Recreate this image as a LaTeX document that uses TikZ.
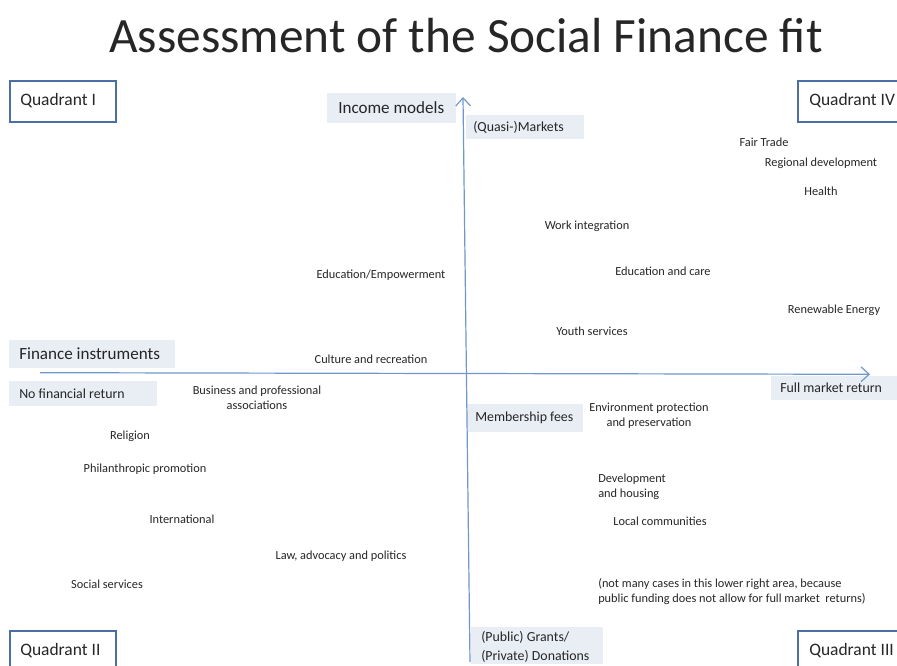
\documentclass[tikz,border=0pt]{standalone}
\usepackage{fontspec}
\setmainfont{Carlito}
\usetikzlibrary{arrows.meta}
\definecolor{axisblue}{HTML}{6F97CC}
\definecolor{qborder}{HTML}{4A6FA5}
\definecolor{lblfill}{HTML}{E9EDF4}
\definecolor{txt}{HTML}{262626}
\begin{document}
\begin{tikzpicture}[x=0.75pt,y=-0.75pt,
  every node/.style={text=txt,inner sep=0pt},
  quad/.style={draw=qborder,line width=1.5pt,fill=white,anchor=north west},
  qtext/.style={anchor=west,font=\fontsize{13.1}{15}\selectfont},
  axlbl/.style={fill=lblfill,anchor=north west},
  axtext/.style={anchor=west,font=\fontsize{12.8}{15}\selectfont},
  vallbl/.style={fill=lblfill,anchor=north west},
  valtext/.style={anchor=west,font=\fontsize{10.4}{13}\selectfont},
  item/.style={font=\fontsize{9.25}{11.25}\selectfont,align=center},
  axis/.style={draw=axisblue,line width=0.9pt}]
\useasboundingbox (0,0) rectangle (897,666);
% title
\node[font=\fontsize{37}{42}\selectfont] (title) at (466,36) {Assessment of the Social Finance fit};
% quadrant boxes
\node[quad,minimum width=106*0.75pt,minimum height=41*0.75pt] (q1) at (9,80) {};
\node[qtext] (q1t) at (20,100.5) {Quadrant I};
\node[quad,minimum width=110*0.75pt,minimum height=41*0.75pt] (q4) at (797,80) {};
\node[qtext] (q4t) at (809,100.5) {Quadrant IV};
\node[quad,minimum width=106*0.75pt,minimum height=41*0.75pt] (q2) at (9,630) {};
\node[qtext] (q2t) at (20,651) {Quadrant II};
\node[quad,minimum width=110*0.75pt,minimum height=41*0.75pt] (q3) at (797,630) {};
\node[qtext] (q3t) at (809,651) {Quadrant III};
% axis labels
\node[axlbl,minimum width=129*0.75pt,minimum height=30*0.75pt] (inc) at (327,93) {};
\node[axtext] at (338,108) {Income models};
\node[axlbl,minimum width=166*0.75pt,minimum height=28*0.75pt] (fin) at (9,340) {};
\node[axtext] at (19,354) {Finance instruments};
% value labels
\node[vallbl,minimum width=118*0.75pt,minimum height=24*0.75pt] (mk) at (466,115) {};
\node[valtext] at (473,127) {(Quasi-)Markets};
\node[vallbl,minimum width=148*0.75pt,minimum height=25*0.75pt] (nfr) at (9,381) {};
\node[valtext] at (19,393.5) {No financial return};
\node[vallbl,minimum width=126*0.75pt,minimum height=24*0.75pt] (fmr) at (771,375.5) {};
\node[valtext] at (780,387.5) {Full market return};
\node[vallbl,minimum width=116*0.75pt,minimum height=28*0.75pt] (mem) at (467,404) {};
\node[valtext] at (475,418) {Membership fees};
\node[vallbl,minimum width=132*0.75pt,minimum height=37*0.75pt] (gr) at (471,627) {};
\node[valtext,font=\fontsize{10.4}{14.5}\selectfont,align=left] at (481,647) {(Public) Grants/\\(Private) Donations};
% axes
\coordinate (vtop) at (463,97);
\coordinate (vbot) at (470,662);
\coordinate (hleft) at (40,372.7);
\coordinate (hright) at (870,374.3);
\draw[axis,-{Straight Barb[length=6pt,width=11pt]}] (vbot) -- (vtop);
\draw[axis,-{Straight Barb[length=6pt,width=11pt]}] (hleft) -- (hright);
% items
\node[item] (ft) at (764,142) {Fair Trade};
\node[item] (rd) at (821,163) {Regional development};
\node[item] (he) at (821,191) {Health};
\node[item] (wi) at (587,226) {Work integration};
\node[item] (ee) at (381,275) {Education/Empowerment};
\node[item] (ec) at (663,271) {Education and care};
\node[item] (re) at (834,310) {Renewable Energy};
\node[item] (ys) at (592,331) {Youth services};
\node[item] (cr) at (371,359) {Culture and recreation};
\node[item] (bp) at (257,397.5) {Business and professional\\associations};
\node[item] (ep) at (649,415.5) {Environment protection\\and preservation};
\node[item] (rel) at (130,436) {Religion};
\node[item] (pp) at (145,469) {Philanthropic promotion};
\node[item,align=left,anchor=west] (dh) at (598,486.5) {Development\\and housing};
\node[item] (int) at (182,519) {International};
\node[item] (lc) at (660,521) {Local communities};
\node[item] (lap) at (341,556) {Law, advocacy and politics};
\node[item] (ss) at (107,584) {Social services};
\node[item,align=left,anchor=west] (nm) at (598,591.5) {(not many cases in this lower right area, because\\public funding does not allow for full market\ \ returns)};
\end{tikzpicture}
\end{document}
